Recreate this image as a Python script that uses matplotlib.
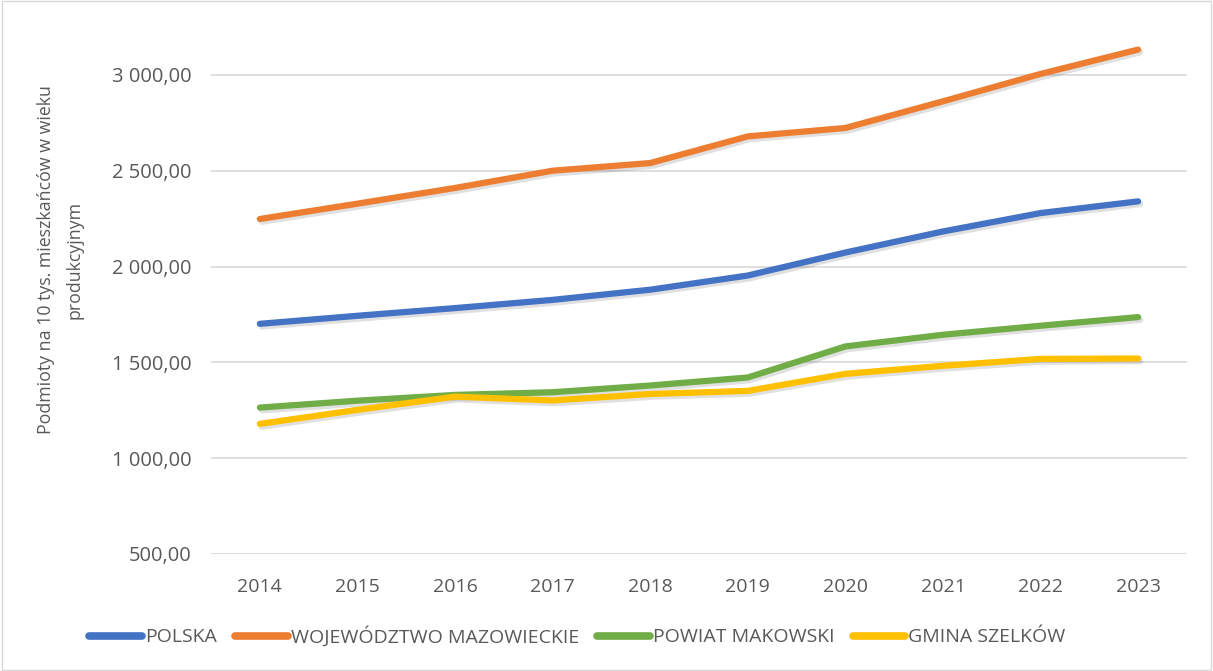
import matplotlib
matplotlib.use("Agg")
import matplotlib.pyplot as plt
import matplotlib.patheffects as pe
from matplotlib.ticker import FuncFormatter

years = ["2014", "2015", "2016", "2017", "2018", "2019", "2020", "2021", "2022", "2023"]
polska = [1701, 1743, 1783, 1826, 1879, 1953, 2073, 2183, 2279, 2340]
mazowieckie = [2248, 2328, 2410, 2500, 2540, 2679, 2723, 2862, 3005, 3132]
powiat = [1264, 1300, 1330, 1344, 1379, 1421, 1583, 1644, 1691, 1736]
gmina = [1179, 1252, 1321, 1301, 1335, 1351, 1440, 1482, 1518, 1520]

series_names = ["POLSKA", "WOJEWÓDZTWO MAZOWIECKIE", "POWIAT MAKOWSKI", "GMINA SZELKÓW"]
series_values = [polska, mazowieckie, powiat, gmina]
colors = ["#4472C4", "#ED7D31", "#70AD47", "#FFC000"]
yticks = [500, 1000, 1500, 2000, 2500, 3000]

plt.rcParams['font.family'] = ['Open Sans', 'DejaVu Sans']

fig = plt.figure(figsize=(12.13, 6.71), dpi=100)
ax = fig.add_axes([0.174, 0.1744, 0.8045, 0.7854])

x = list(range(len(years)))
shadow = [pe.SimpleLineShadow(offset=(1.5, -2), shadow_color="black", alpha=0.12), pe.Normal()]
for name, vals, c in zip(series_names, series_values, colors):
    ax.plot(x, vals, color=c, lw=4.5, solid_capstyle="round", solid_joinstyle="round",
            label=name, path_effects=shadow)

ax.set_xlim(-0.5, len(years) - 0.5)
ax.set_ylim(500, 3250)
ax.set_yticks(yticks)
ax.yaxis.set_major_formatter(FuncFormatter(lambda v, p: f"{int(v):,}".replace(",", " ") + ",00"))
ax.set_xticks(x)
ax.set_xticklabels(years)
ax.tick_params(axis="both", length=0, labelsize=14, colors="#595959")
ax.tick_params(axis="x", pad=17)
ax.tick_params(axis="y", pad=14, labelsize=14.5)
ax.grid(axis="y", color="#d9d9d9", lw=1.2)
ax.set_axisbelow(True)
for s in ax.spines.values():
    s.set_visible(False)

ax.set_ylabel("Podmioty na 10 tys. mieszkańców w wieku\nprodukcyjnym", fontsize=12.8,
              color="#595959", linespacing=1.75)
ax.yaxis.set_label_coords(-0.131, 0.558)

leg = fig.legend(loc="center", bbox_to_anchor=(0.476, 0.052), ncol=4, frameon=False,
                 fontsize=14, handlelength=2.7, handletextpad=0.15, columnspacing=0.95,
                 labelcolor="#595959")
for h in leg.legend_handles:
    h.set_path_effects([])
    h.set_linewidth(5.5)

border = plt.Rectangle((0.002, 0.002), 0.996, 0.996, transform=fig.transFigure,
                       fill=False, edgecolor="#d9d9d9", lw=1)
fig.patches.append(border)

fig.savefig("out.png", dpi=100)
